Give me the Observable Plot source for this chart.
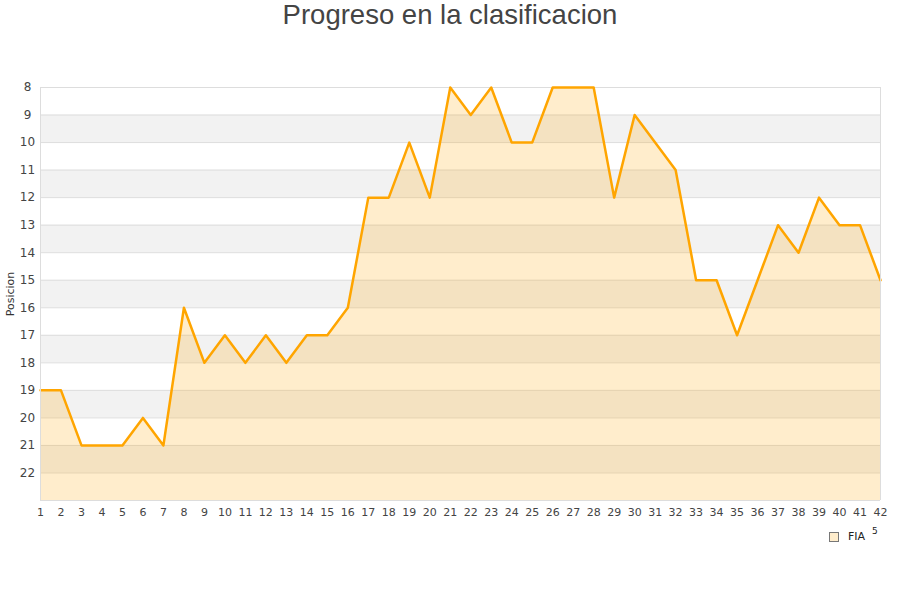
<!DOCTYPE html>
<html>
<head>
<meta charset="utf-8">
<script src="https://cdn.jsdelivr.net/npm/d3@7"></script>
<script src="https://cdn.jsdelivr.net/npm/@observablehq/plot@0.6"></script>
<style>
  body { margin: 0; background: #fff; }
  #title { height: 40px; text-align: center; font: 27.5px "Liberation Sans", Arial, sans-serif; color: #444; line-height: 30px; }
  #chart { position: relative; height: 490px; }
  #legend { position: relative; height: 70px; font: 11px "DejaVu Sans", sans-serif; color: #222; }
  #legend .sw { position: absolute; left: 829px; top: 2px; width: 8px; height: 8px; background: #ffedcc; border: 1px solid #777; }
  #legend .lb { position: absolute; left: 848px; top: 0px; }
  #legend .pg { position: absolute; left: 872px; top: -4px; font-size: 9px; }
</style>
</head>
<body>
<div id="title">Progreso en la clasificacion</div>
<div id="chart"></div>
<div id="legend"><span class="sw"></span><span class="lb">FIA</span><span class="pg">5</span></div>
<script>
  /* Datos */
  const vueltas = d3.range(1, 43)
  const posiciones = [19, 19, 21, 21, 21, 20, 21, 16, 18, 17,
                      18, 17, 18, 17, 17, 16, 12, 12, 10, 12,
                      8, 9, 8, 10, 10, 8, 8, 8, 12, 9,
                      10, 11, 15, 15, 17, 15, 13, 14, 12, 13,
                      13, 15]
  const yTicks = d3.range(8, 23)
  const bandas = [9, 11, 13, 15, 17, 19, 21]
  const yMin = 8
  const yMax = 23
  const serie = 'FIA'

  const data = vueltas.map((v, i) => ({vuelta: v, pos: posiciones[i], serie}))

  const chart = Plot.plot({
    width: 900,
    height: 490,
    marginTop: 47,
    marginBottom: 30,
    marginLeft: 40,
    marginRight: 20,
    style: {fontFamily: 'DejaVu Sans, sans-serif', fontSize: '11px', color: '#444'},
    x: {domain: [1, 42], ticks: vueltas, tickSize: 0, tickPadding: 8, label: null, tickFormat: d => d},
    y: {domain: [yMin, yMax], reverse: true, ticks: yTicks, tickSize: 0, label: null},
    marks: [
      Plot.rect(bandas, {y1: d => d, y2: d => d + 1, fill: '#f2f2f2'}),
      Plot.ruleY(d3.range(yMin, yMax), {stroke: '#ddd'}),
      Plot.areaY(data, {x: 'vuelta', y1: () => yMax, y2: 'pos', fill: 'orange', fillOpacity: 0.2}),
      Plot.line(data, {x: 'vuelta', y: 'pos', stroke: 'orange', strokeWidth: 2.5}),
      Plot.axisY({ticks: yTicks, tickSize: 0, tickPadding: 0, dx: -13, textAnchor: 'middle', fontSize: 12, label: null}),
      Plot.axisX({ticks: vueltas, tickSize: 0, tickPadding: 8, label: null, fontSize: 11}),
      Plot.ruleX([1], {stroke: '#ddd'}),
      Plot.ruleX([42], {stroke: '#ddd'}),
      Plot.ruleY([yMax], {stroke: '#ddd'}),
      Plot.text(['Posicion'], {frameAnchor: 'left', rotate: -90, dx: -30, textAnchor: 'middle', fontSize: 11, fill: '#333'}),
    ],
  })

  d3.select('#chart').append(() => chart)
</script>
</body>
</html>
